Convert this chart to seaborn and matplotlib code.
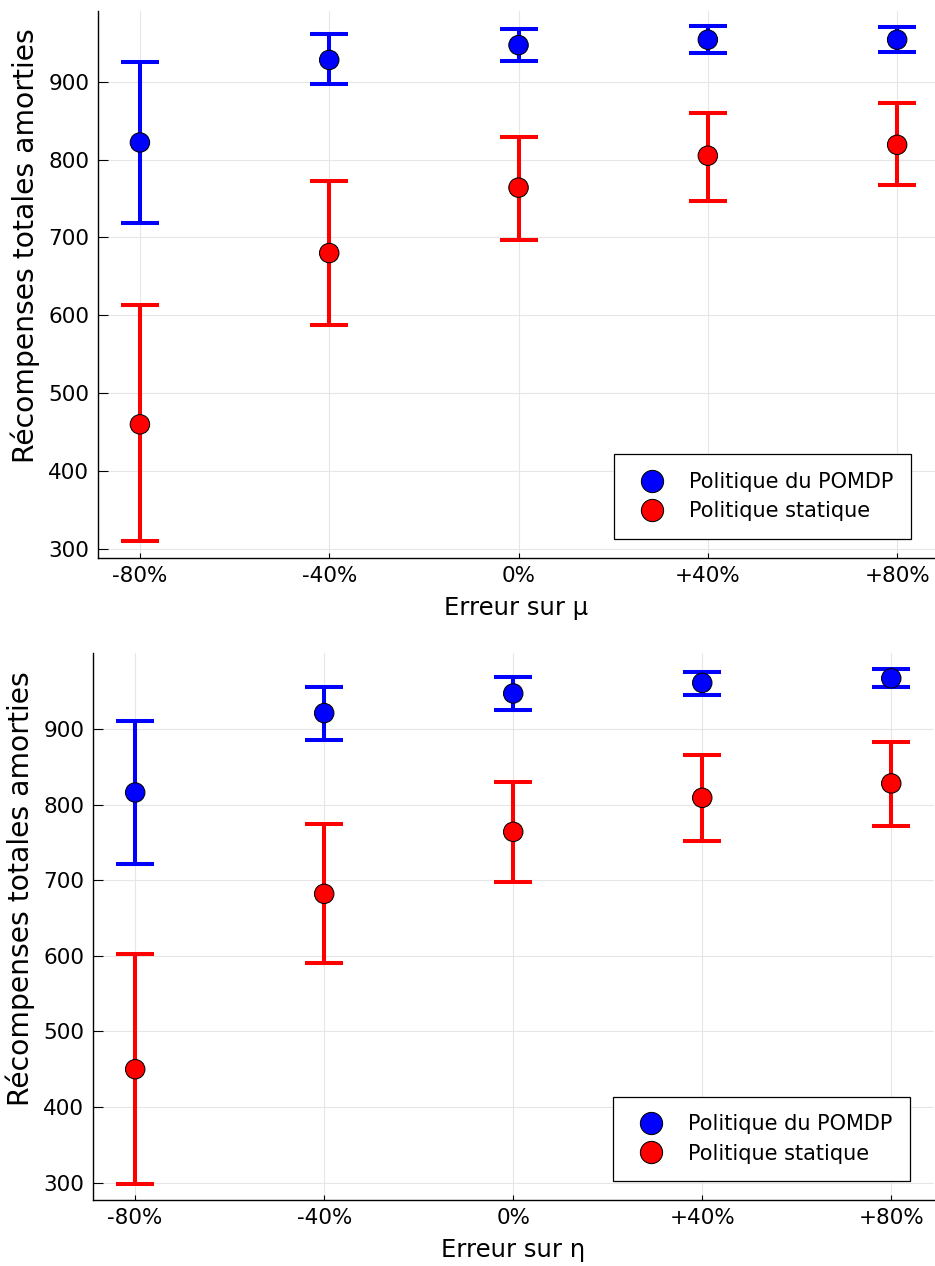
import numpy as np
import pandas as pd
import matplotlib
matplotlib.use("Agg")
import matplotlib.pyplot as plt
from matplotlib.lines import Line2D
import seaborn as sns

# Error levels on the model parameter
categories = ["-80%", "-40%", "0%", "+40%", "+80%"]
series_names = ["Politique du POMDP", "Politique statique"]
series_colors = ["#0000ff", "#ff0000"]

# Error on mu: mean and bounds of the discounted total reward
mu_pomdp = [822, 928, 947, 954, 954]
mu_pomdp_lo = [719, 897, 927, 937, 938]
mu_pomdp_hi = [925, 961, 968, 972, 970]
mu_static = [460, 680, 764, 805, 819]
mu_static_lo = [310, 588, 697, 747, 767]
mu_static_hi = [613, 773, 829, 860, 873]

# Error on eta
eta_pomdp = [816, 921, 947, 961, 967]
eta_pomdp_lo = [721, 886, 925, 945, 955]
eta_pomdp_hi = [911, 955, 969, 976, 980]
eta_static = [450, 682, 764, 809, 828]
eta_static_lo = [298, 591, 698, 752, 772]
eta_static_hi = [602, 774, 830, 865, 883]

y_ticks = [300, 400, 500, 600, 700, 800, 900]


def build_frame(pomdp, pomdp_lo, pomdp_hi, static, static_lo, static_hi):
    rows = []
    for name, m, lo, hi in [(series_names[0], pomdp, pomdp_lo, pomdp_hi),
                            (series_names[1], static, static_lo, static_hi)]:
        for i, cat in enumerate(categories):
            rows.append({"niveau": cat, "pos": i, "politique": name,
                         "moyenne": m[i], "bas": lo[i], "haut": hi[i]})
    return pd.DataFrame(rows)


sns.set_theme(style="white")
plt.rcParams["font.family"] = ["DejaVu Sans"]

fig = plt.figure(figsize=(9.35, 12.66), dpi=100)
ax_top = fig.add_axes([0.1045, 0.5595, 0.8955, 0.4318])
ax_bot = fig.add_axes([0.0991, 0.0521, 0.8998, 0.4318])

panels = [
    (ax_top, build_frame(mu_pomdp, mu_pomdp_lo, mu_pomdp_hi,
                         mu_static, mu_static_lo, mu_static_hi),
     "Erreur sur μ", (288.8, 990.8), (-0.223, 4.2)),
    (ax_bot, build_frame(eta_pomdp, eta_pomdp_lo, eta_pomdp_hi,
                         eta_static, eta_static_lo, eta_static_hi),
     "Erreur sur η", (277.0, 1000.0), (-0.225, 4.226)),
]

palette = dict(zip(series_names, series_colors))

for ax, df, xlabel, ylim, xlim in panels:
    for name in series_names:
        sub = df[df["politique"] == name]
        err = np.vstack([sub["moyenne"] - sub["bas"], sub["haut"] - sub["moyenne"]])
        ax.errorbar(sub["pos"], sub["moyenne"], yerr=err, fmt="none",
                    ecolor=palette[name], elinewidth=2.9, capsize=13.5,
                    capthick=2.9, zorder=2)
    sns.scatterplot(data=df, x="pos", y="moyenne", hue="politique",
                    palette=palette, s=196, edgecolor="black", linewidth=0.75,
                    legend=False, zorder=3, ax=ax)

    ax.set_xlim(*xlim)
    ax.set_ylim(*ylim)
    ax.set_xticks(range(len(categories)))
    ax.set_xticklabels(categories)
    ax.set_yticks(y_ticks)
    ax.grid(True, color="#e6e6e6", linewidth=0.8)
    ax.set_axisbelow(True)
    for side in ["top", "right"]:
        ax.spines[side].set_visible(False)
    for side in ["left", "bottom"]:
        ax.spines[side].set_color("black")
        ax.spines[side].set_linewidth(1.0)
    ax.tick_params(axis="y", direction="in", length=7.5, width=0.8,
                   labelsize=15.5, pad=6, colors="black", left=True)
    ax.tick_params(axis="x", direction="in", length=3.6, width=0.8,
                   labelsize=15.5, pad=6, colors="black", bottom=True)
    ax.set_xlabel(xlabel, fontsize=17.5, labelpad=7, color="black")
    ax.set_ylabel("Récompenses totales amorties", fontsize=20.3,
                  labelpad=6, color="black")
    ax.yaxis.label.set_y(0.57)

    handles = [Line2D([], [], linestyle="none", marker="o", markersize=16,
                      markerfacecolor=c, markeredgecolor="black",
                      markeredgewidth=0.75) for c in series_colors]
    leg = ax.legend(handles, series_names, loc="lower right",
                    bbox_to_anchor=(0.9713, 0.034), fontsize=15,
                    frameon=True, fancybox=False, shadow=False,
                    borderpad=0.85, labelspacing=0.45, handlelength=2.0,
                    handletextpad=0.75, borderaxespad=0.0,
                    labelcolor="black")
    frame = leg.get_frame()
    frame.set_edgecolor("black")
    frame.set_linewidth(0.9)
    frame.set_alpha(1.0)

fig.savefig("out.png", dpi=100)
